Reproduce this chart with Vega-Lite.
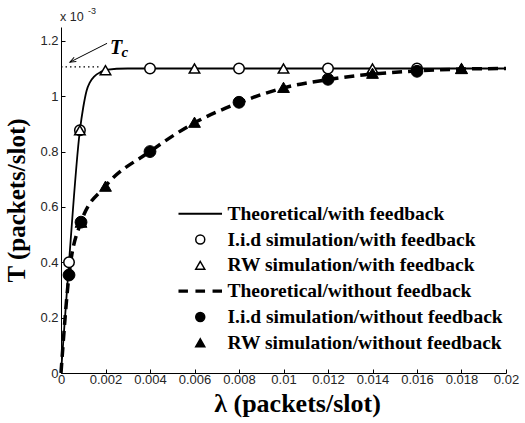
{
  "$schema": "https://vega.github.io/schema/vega-lite/v6.json",
  "width": 445,
  "height": 346,
  "autosize": {"type": "none"},
  "padding": {"left": 61, "top": 27, "right": 19, "bottom": 50},
  "background": "white",
  "config": {
    "view": {"stroke": null},
    "axis": {
      "grid": false,
      "domainColor": "black",
      "domainWidth": 1,
      "tickColor": "black",
      "tickSize": -4,
      "labelFlush": false,
      "labelFont": "Liberation Sans",
      "labelFontSize": 13,
      "labelColor": "#262626",
      "titleFont": "Liberation Serif",
      "titleFontWeight": "bold",
      "titleFontSize": 25,
      "titleColor": "black"
    }
  },
  "datasets": {
    "theory": [
      {"series": "Theoretical/with feedback", "lam": 0, "T": 0},
      {"series": "Theoretical/with feedback", "lam": 0.00036, "T": 0.4},
      {"series": "Theoretical/with feedback", "lam": 0.00085, "T": 0.877},
      {"series": "Theoretical/with feedback", "lam": 0.001, "T": 0.96},
      {"series": "Theoretical/with feedback", "lam": 0.00115, "T": 1.02},
      {"series": "Theoretical/with feedback", "lam": 0.0013, "T": 1.05},
      {"series": "Theoretical/with feedback", "lam": 0.0015, "T": 1.072},
      {"series": "Theoretical/with feedback", "lam": 0.0018, "T": 1.088},
      {"series": "Theoretical/with feedback", "lam": 0.002, "T": 1.095},
      {"series": "Theoretical/with feedback", "lam": 0.003, "T": 1.1},
      {"series": "Theoretical/with feedback", "lam": 0.02, "T": 1.1},
      {"series": "Theoretical/without feedback", "lam": 0, "T": 0},
      {"series": "Theoretical/without feedback", "lam": 0.00036, "T": 0.354},
      {"series": "Theoretical/without feedback", "lam": 0.0009, "T": 0.545},
      {"series": "Theoretical/without feedback", "lam": 0.002, "T": 0.675},
      {"series": "Theoretical/without feedback", "lam": 0.004, "T": 0.8},
      {"series": "Theoretical/without feedback", "lam": 0.006, "T": 0.904},
      {"series": "Theoretical/without feedback", "lam": 0.008, "T": 0.976},
      {"series": "Theoretical/without feedback", "lam": 0.01, "T": 1.03},
      {"series": "Theoretical/without feedback", "lam": 0.012, "T": 1.06},
      {"series": "Theoretical/without feedback", "lam": 0.014, "T": 1.08},
      {"series": "Theoretical/without feedback", "lam": 0.016, "T": 1.091},
      {"series": "Theoretical/without feedback", "lam": 0.018, "T": 1.098},
      {"series": "Theoretical/without feedback", "lam": 0.02, "T": 1.1}
    ],
    "sim": [
      {"series": "I.i.d simulation/with feedback", "kind": "open", "lam": 0.00036, "T": 0.4},
      {"series": "I.i.d simulation/with feedback", "kind": "open", "lam": 0.00085, "T": 0.877},
      {"series": "I.i.d simulation/with feedback", "kind": "open", "lam": 0.004, "T": 1.1},
      {"series": "I.i.d simulation/with feedback", "kind": "open", "lam": 0.008, "T": 1.1},
      {"series": "I.i.d simulation/with feedback", "kind": "open", "lam": 0.012, "T": 1.1},
      {"series": "I.i.d simulation/with feedback", "kind": "open", "lam": 0.016, "T": 1.1},
      {"series": "RW simulation/with feedback", "kind": "open", "lam": 0.00085, "T": 0.877},
      {"series": "RW simulation/with feedback", "kind": "open", "lam": 0.002, "T": 1.094},
      {"series": "RW simulation/with feedback", "kind": "open", "lam": 0.006, "T": 1.1},
      {"series": "RW simulation/with feedback", "kind": "open", "lam": 0.01, "T": 1.1},
      {"series": "RW simulation/with feedback", "kind": "open", "lam": 0.014, "T": 1.1},
      {"series": "RW simulation/with feedback", "kind": "open", "lam": 0.018, "T": 1.1},
      {"series": "I.i.d simulation/without feedback", "kind": "filled", "lam": 0.00036, "T": 0.354},
      {"series": "I.i.d simulation/without feedback", "kind": "filled", "lam": 0.0009, "T": 0.545},
      {"series": "I.i.d simulation/without feedback", "kind": "filled", "lam": 0.004, "T": 0.8},
      {"series": "I.i.d simulation/without feedback", "kind": "filled", "lam": 0.008, "T": 0.978},
      {"series": "I.i.d simulation/without feedback", "kind": "filled", "lam": 0.012, "T": 1.061},
      {"series": "I.i.d simulation/without feedback", "kind": "filled", "lam": 0.016, "T": 1.09},
      {"series": "RW simulation/without feedback", "kind": "filled", "lam": 0.0009, "T": 0.545},
      {"series": "RW simulation/without feedback", "kind": "filled", "lam": 0.002, "T": 0.675},
      {"series": "RW simulation/without feedback", "kind": "filled", "lam": 0.006, "T": 0.906},
      {"series": "RW simulation/without feedback", "kind": "filled", "lam": 0.01, "T": 1.032},
      {"series": "RW simulation/without feedback", "kind": "filled", "lam": 0.014, "T": 1.083},
      {"series": "RW simulation/without feedback", "kind": "filled", "lam": 0.018, "T": 1.1}
    ]
  },
  "encoding": {
    "x": {
      "field": "lam",
      "type": "quantitative",
      "scale": {"domain": [0, 0.02], "nice": false, "zero": false},
      "axis": {
        "title": "λ (packets/slot)",
        "values": [0, 0.002, 0.004, 0.006, 0.008, 0.01, 0.012, 0.014, 0.016, 0.018, 0.02],
        "format": "~g",
        "labelPadding": 4,
        "titlePadding": 4,
        "titleFontSize": 26,
        "titleX": 236,
        "labelOverlap": false
      }
    },
    "y": {
      "field": "T",
      "type": "quantitative",
      "scale": {"domain": [0, 1.25], "nice": false, "zero": false},
      "axis": {
        "title": "T (packets/slot)",
        "values": [0, 0.2, 0.4, 0.6, 0.8, 1, 1.2],
        "format": "~g",
        "labelPadding": 7,
        "titlePadding": 10,
        "labelOverlap": false
      }
    }
  },
  "layer": [
    {
      "data": {"name": "theory"},
      "transform": [{"filter": "datum.series === 'Theoretical/with feedback'"}],
      "mark": {"type": "line", "color": "black", "strokeWidth": 1.8, "interpolate": "monotone"}
    },
    {
      "data": {"name": "theory"},
      "transform": [{"filter": "datum.series === 'Theoretical/without feedback'"}],
      "mark": {"type": "line", "color": "black", "strokeWidth": 3.5, "strokeDash": [10, 6], "interpolate": "monotone"}
    },
    {
      "data": {"values": [{"lam": 0, "lam2": 0.0018, "T": 1.106}]},
      "mark": {"type": "rule", "color": "black", "strokeWidth": 1.2, "strokeDash": [1.5, 3]},
      "encoding": {"x2": {"field": "lam2"}}
    },
    {
      "data": {"values": [{"lam": 0.00207, "T": 1.191, "lam2": 0.0004, "T2": 1.123}]},
      "mark": {"type": "rule", "color": "black", "strokeWidth": 1},
      "encoding": {"x2": {"field": "lam2"}, "y2": {"field": "T2"}}
    },
    {
      "data": {"values": [{"lam": 0.0004, "T": 1.123}]},
      "mark": {"type": "point", "shape": "M-1.5,-0.6L0,0L-1.5,0.6", "size": 64, "angle": 153, "filled": false, "stroke": "black", "strokeWidth": 1, "opacity": 1}
    },
    {
      "data": {"name": "sim"},
      "transform": [{"filter": "datum.kind === 'open'"}],
      "mark": {"type": "point", "filled": true, "size": 110, "strokeWidth": 1.5, "opacity": 1},
      "encoding": {
        "shape": {
          "field": "series",
          "type": "nominal",
          "scale": {
            "domain": ["Theoretical/with feedback", "I.i.d simulation/with feedback", "RW simulation/with feedback", "Theoretical/without feedback", "I.i.d simulation/without feedback", "RW simulation/without feedback"],
            "range": ["M-4.67,-0.05H4.67V0.05H-4.67Z", "circle", "triangle-up", "M-4.67,-0.2H-2.9V0.2H-4.67ZM-0.9,-0.2H0.9V0.2H-0.9ZM2.9,-0.2H4.67V0.2H2.9Z", "circle", "triangle-up"]
          },
          "legend": {
            "title": null,
            "orient": "none",
            "legendX": 129.5,
            "legendY": 177,
            "padding": 0,
            "labelFont": "Liberation Serif",
            "labelFontWeight": "bold",
            "labelFontSize": 19.5,
            "labelColor": "black",
            "labelOffset": 17.5,
            "rowPadding": 4.8,
            "symbolSize": 81,
            "symbolStrokeWidth": 1.5,
            "labelLimit": 400
          }
        },
        "fill": {
          "field": "series",
          "type": "nominal",
          "scale": {
            "domain": ["Theoretical/with feedback", "I.i.d simulation/with feedback", "RW simulation/with feedback", "Theoretical/without feedback", "I.i.d simulation/without feedback", "RW simulation/without feedback"],
            "range": ["black", "white", "white", "black", "black", "black"]
          },
          "legend": {
            "title": null,
            "orient": "none",
            "legendX": 129.5,
            "legendY": 177,
            "padding": 0,
            "labelFont": "Liberation Serif",
            "labelFontWeight": "bold",
            "labelFontSize": 19.5,
            "labelColor": "black",
            "labelOffset": 17.5,
            "rowPadding": 4.8,
            "symbolSize": 81,
            "symbolStrokeWidth": 1.5,
            "labelLimit": 400
          }
        },
        "stroke": {
          "field": "series",
          "type": "nominal",
          "scale": {
            "domain": ["Theoretical/with feedback", "I.i.d simulation/with feedback", "RW simulation/with feedback", "Theoretical/without feedback", "I.i.d simulation/without feedback", "RW simulation/without feedback"],
            "range": ["black", "black", "black", "black", "black", "black"]
          },
          "legend": {
            "title": null,
            "orient": "none",
            "legendX": 129.5,
            "legendY": 177,
            "padding": 0,
            "labelFont": "Liberation Serif",
            "labelFontWeight": "bold",
            "labelFontSize": 19.5,
            "labelColor": "black",
            "labelOffset": 17.5,
            "rowPadding": 4.8,
            "symbolSize": 81,
            "symbolStrokeWidth": 1.5,
            "labelLimit": 400
          }
        }
      }
    },
    {
      "data": {"name": "sim"},
      "transform": [{"filter": "datum.kind === 'filled'"}],
      "mark": {"type": "point", "filled": true, "size": 140, "strokeWidth": 1, "opacity": 1},
      "encoding": {
        "shape": {"field": "series", "type": "nominal"},
        "fill": {"field": "series", "type": "nominal"},
        "stroke": {"field": "series", "type": "nominal"}
      }
    },
    {
      "data": {"values": [{"lam": 0, "T": 1.25, "label": "x 10"}]},
      "mark": {"type": "text", "align": "left", "baseline": "alphabetic", "dx": -1, "dy": -6, "font": "Liberation Sans", "fontSize": 12.5, "color": "#262626"},
      "encoding": {"text": {"field": "label"}}
    },
    {
      "data": {"values": [{"lam": 0, "T": 1.25, "label": "-3"}]},
      "mark": {"type": "text", "align": "left", "baseline": "alphabetic", "dx": 27, "dy": -13, "font": "Liberation Sans", "fontSize": 9, "color": "#262626"},
      "encoding": {"text": {"field": "label"}}
    },
    {
      "data": {"values": [{"lam": 0.0022, "T": 1.152, "label": "T"}]},
      "mark": {"type": "text", "align": "left", "baseline": "alphabetic", "font": "Liberation Serif", "fontSize": 20, "fontStyle": "italic", "fontWeight": "bold", "color": "black"},
      "encoding": {"text": {"field": "label"}}
    },
    {
      "data": {"values": [{"lam": 0.0022, "T": 1.152, "label": "c"}]},
      "mark": {"type": "text", "align": "left", "baseline": "alphabetic", "dx": 11.5, "dy": 3, "font": "Liberation Serif", "fontSize": 15, "fontStyle": "italic", "fontWeight": "bold", "color": "black"},
      "encoding": {"text": {"field": "label"}}
    }
  ]
}
